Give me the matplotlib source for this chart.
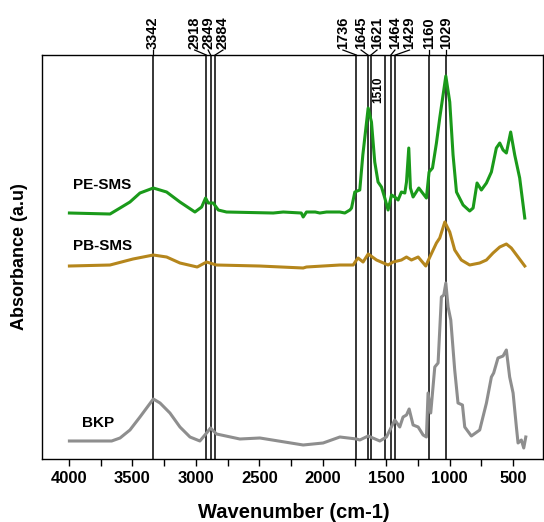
"""FTIR spectra of BKP, PB-SMS and PE-SMS with marked band positions."""

import matplotlib

matplotlib.use("Agg")
import matplotlib.pyplot as plt
from matplotlib.ticker import MultipleLocator

plt.rcParams["font.family"] = ["Liberation Sans", "DejaVu Sans"]
plt.rcParams["font.weight"] = "bold"

# ---- data ----
pe_wn = [3997, 3677, 3598, 3520, 3441, 3336, 3231, 3126, 3008, 2955, 2924, 2903,
         2864, 2824, 2759, 2391, 2312, 2170, 2155, 2129, 2060, 2024, 1971, 1866,
         1827, 1787, 1774, 1748, 1709, 1685, 1643, 1617, 1591, 1565, 1538, 1512,
         1486, 1459, 1433, 1407, 1381, 1354, 1341, 1323, 1310, 1289, 1244, 1184,
         1163, 1136, 1105, 1079, 1031, 1000, 974, 947, 895, 843, 816, 785, 751,
         711, 672, 633, 606, 580, 554, 520, 488, 449, 409]
pe_abs = [2.46, 2.45, 2.51, 2.57, 2.66, 2.71, 2.67, 2.57, 2.47, 2.52, 2.61, 2.56,
          2.56, 2.49, 2.47, 2.46, 2.47, 2.46, 2.42, 2.47, 2.47, 2.46, 2.47, 2.47,
          2.46, 2.49, 2.51, 2.67, 2.69, 3.04, 3.51, 3.37, 2.97, 2.77, 2.72, 2.61,
          2.49, 2.64, 2.62, 2.59, 2.67, 2.66, 2.77, 3.11, 2.71, 2.62, 2.71, 2.61,
          2.87, 2.91, 3.16, 3.41, 3.83, 3.57, 3.04, 2.67, 2.54, 2.48, 2.51, 2.76,
          2.69, 2.76, 2.87, 3.11, 3.16, 3.09, 3.06, 3.27, 3.04, 2.81, 2.41]

pb_wn = [3997, 3677, 3496, 3336, 3231, 3126, 2990, 2916, 2838, 2500, 2155, 2129,
         1866, 1761, 1735, 1722, 1683, 1643, 1577, 1486, 1446, 1381, 1341, 1302,
         1249, 1189, 1157, 1105, 1079, 1039, 1000, 961, 909, 843, 764, 711, 659,
         606, 554, 515, 462, 409]
pb_abs = [1.93, 1.94, 2.00, 2.04, 2.02, 1.96, 1.92, 1.97, 1.94, 1.93, 1.91, 1.92,
          1.94, 1.94, 1.99, 2.01, 1.97, 2.05, 1.99, 1.94, 1.97, 1.99, 2.02, 1.99,
          2.02, 1.93, 2.02, 2.16, 2.21, 2.37, 2.27, 2.09, 1.99, 1.94, 1.96, 1.99,
          2.06, 2.12, 2.15, 2.11, 2.02, 1.93]

bkp_wn = [3997, 3664, 3598, 3520, 3441, 3336, 3283, 3205, 3126, 3047, 2969, 2916,
          2885, 2838, 2654, 2496, 2155, 1998, 1866, 1735, 1709, 1643, 1551, 1499,
          1433, 1394, 1368, 1341, 1320, 1289, 1249, 1210, 1184, 1171, 1150, 1118,
          1092, 1066, 1047, 1031, 1013, 992, 961, 935, 900, 882, 830, 764, 711,
          672, 654, 620, 580, 554, 528, 501, 475, 462, 436, 417, 401]
bkp_abs = [0.18, 0.18, 0.21, 0.29, 0.42, 0.60, 0.56, 0.46, 0.32, 0.22, 0.18, 0.26,
           0.31, 0.25, 0.20, 0.21, 0.14, 0.16, 0.22, 0.20, 0.19, 0.23, 0.18, 0.22,
           0.39, 0.32, 0.42, 0.44, 0.50, 0.34, 0.32, 0.24, 0.22, 0.66, 0.46, 0.92,
           0.96, 1.62, 1.64, 1.76, 1.52, 1.39, 0.89, 0.56, 0.54, 0.32, 0.23, 0.29,
           0.56, 0.82, 0.86, 1.01, 1.03, 1.09, 0.82, 0.66, 0.32, 0.16, 0.19, 0.11,
           0.22]

series_names = ["PE-SMS", "PB-SMS", "BKP"]

# band markers, label text as printed above the frame
band_wn = [3342, 2918, 2884, 2849, 1736, 1645, 1621, 1464, 1429, 1160, 1029]
band_text = ["3342", "2918", "2849", "2884", "1736", "1645", "1621", "1464",
             "1429", "1160", "1029"]
inner_band_wn = 1510

# ---- styles / layout ----
COLORS = {"PE-SMS": "#1a9a1a", "PB-SMS": "#b5861c", "BKP": "#8e8e8e"}
NAME_POS = {"PE-SMS": (3970, 2.74), "PB-SMS": (3970, 2.13), "BKP": (3900, 0.36)}
# horizontal shift of each printed label relative to its line (cm-1)
LABEL_SHIFT = [0, 92, 20, -62, 106, 54, -48, -32, -112, 0, 0]
YTOP = 4.04

fig = plt.figure(figsize=(5.44, 5.22), dpi=100)
ax = fig.add_axes([0.0772, 0.1207, 0.9208, 0.7739])

for wn, ab, name in zip([pe_wn, pb_wn, bkp_wn], [pe_abs, pb_abs, bkp_abs], series_names):
    ax.plot(wn, ab, color=COLORS[name], lw=2.2, solid_joinstyle="round", zorder=3)
    tx, ty = NAME_POS[name]
    ax.text(tx, ty, name, fontsize=11, fontweight="bold", ha="left", va="center")

for w, txt, shift in zip(band_wn, band_text, LABEL_SHIFT):
    ax.axvline(w, color="black", lw=1.1, zorder=2)
    lx = w + shift
    ax.plot([w, lx], [YTOP, YTOP + 0.05], color="black", lw=0.9, clip_on=False)
    ax.text(lx, YTOP + 0.06, txt, rotation=90, ha="center", va="bottom",
            fontsize=10.5, fontweight="bold")

ax.axvline(inner_band_wn, color="black", lw=1.1, zorder=2)
ax.text(1566, 3.69, str(inner_band_wn), rotation=90, ha="center", va="center",
        fontsize=8.5, fontweight="bold")

ax.set_xlim(4213, 266)
ax.set_ylim(0, YTOP)
ax.xaxis.set_major_locator(MultipleLocator(500))
ax.xaxis.set_minor_locator(MultipleLocator(250))
ax.tick_params(axis="x", which="both", direction="out", length=5, width=1.0,
               labelsize=12, pad=4)
ax.tick_params(axis="y", left=False, labelleft=False)
for lab in ax.get_xticklabels():
    lab.set_fontweight("bold")
for sp in ax.spines.values():
    sp.set_linewidth(1.0)

fig.text(294 / 544, 1 - 512 / 522, "Wavenumber (cm-1)", ha="center", va="center",
         fontsize=14.5, fontweight="bold")
fig.text(20 / 544, 1 - 257 / 522, "Absorbance (a.u)", ha="center", va="center",
         rotation=90, fontsize=13, fontweight="bold")

fig.savefig("out.png", dpi=100)
